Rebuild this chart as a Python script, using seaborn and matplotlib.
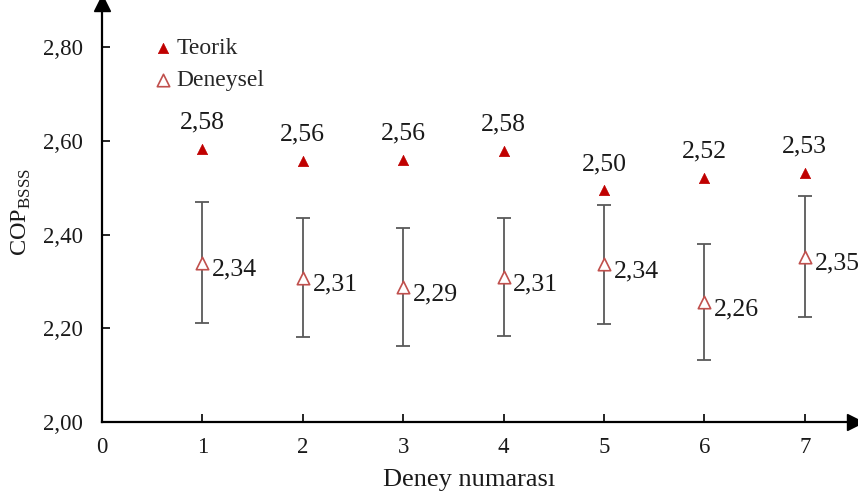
import numpy as np
import pandas as pd
import matplotlib
matplotlib.use("Agg")
import matplotlib.pyplot as plt
import seaborn as sns

deney = [1, 2, 3, 4, 5, 6, 7]
teorik = [2.582, 2.557, 2.560, 2.579, 2.494, 2.521, 2.531]
teorik_labels = ["2,58", "2,56", "2,56", "2,58", "2,50", "2,52", "2,53"]
deneysel = [2.340, 2.308, 2.288, 2.309, 2.337, 2.256, 2.353]
deneysel_err = [0.129, 0.127, 0.126, 0.126, 0.127, 0.124, 0.130]
deneysel_labels = ["2,34", "2,31", "2,29", "2,31", "2,34", "2,26", "2,35"]
x_ticks = [0, 1, 2, 3, 4, 5, 6, 7]
y_ticks = [2.00, 2.20, 2.40, 2.60, 2.80]
y_tick_labels = ["2,00", "2,20", "2,40", "2,60", "2,80"]

df = pd.DataFrame({"Deney": deney, "Teorik": teorik, "Deneysel": deneysel,
                   "err": deneysel_err})

sns.set_theme(style="white")
plt.rcParams['font.family'] = ['Liberation Serif', 'DejaVu Serif']
plt.rcParams['mathtext.fontset'] = 'custom'
plt.rcParams['mathtext.rm'] = 'Liberation Serif'

fig = plt.figure(figsize=(8.58, 4.99), dpi=100)
ax = fig.add_axes([102/858, 77/499, 753/858, 419/499])

red_fill = "#C00000"
red_edge = "#C0504D"

ax.errorbar(df["Deney"], df["Deneysel"], yerr=df["err"], fmt="none",
            ecolor="#595959", elinewidth=1.3, capsize=5, capthick=1.3, zorder=2)

sns.scatterplot(data=df, x="Deney", y="Teorik", marker="^", s=55,
                color=red_fill, edgecolor=red_fill, linewidth=0.5, ax=ax,
                label="Teorik", zorder=3)
sns.scatterplot(data=df, x="Deney", y="Deneysel", marker="^", s=80,
                facecolor="white", edgecolor=red_edge, linewidth=1.2, ax=ax,
                label="Deneysel", zorder=4)

for x, y, t in zip(deney, teorik, teorik_labels):
    ax.annotate(t, (x, y), xytext=(0, 19), textcoords="offset points",
                ha="center", va="center", fontsize=18.5, color="#1a1a1a")
for x, y, t in zip(deney, deneysel, deneysel_labels):
    ax.annotate(t, (x, y), xytext=(7, -5), textcoords="offset points",
                ha="left", va="center", fontsize=18.5, color="#1a1a1a")

ax.set_xlim(0, 7.5)
ax.set_ylim(2.0, 2.894)
ax.set_xticks(x_ticks)
ax.set_xticklabels([str(v) for v in x_ticks])
ax.set_yticks(y_ticks)
ax.set_yticklabels(y_tick_labels)
ax.tick_params(axis="both", direction="in", length=6, width=1.2,
               labelsize=16.5, colors="black", labelcolor="#1a1a1a")
ax.tick_params(axis="x", pad=11, bottom=True)
ax.tick_params(axis="y", pad=14, left=True)

for s in ["top", "right"]:
    ax.spines[s].set_visible(False)
for s in ["left", "bottom"]:
    ax.spines[s].set_color("black")
    ax.spines[s].set_linewidth(1.6)

ax.plot(1, 0, ">", color="black", markersize=11, transform=ax.transAxes,
        clip_on=False, zorder=5)
ax.plot(0, 1, "^", color="black", markersize=11, transform=ax.transAxes,
        clip_on=False, zorder=5)

ax.set_xlabel("Deney numarası", fontsize=19, color="#1a1a1a", labelpad=7)
ax.xaxis.set_label_coords(0.488, -0.113)
ax.set_ylabel(r"COP$_{\mathrm{BSSS}}$", fontsize=17.5, color="#1a1a1a", labelpad=7)

ax.legend(loc="upper left", bbox_to_anchor=(0.049, 0.94), frameon=False,
          fontsize=17, handletextpad=0.0, labelspacing=0.45,
          borderaxespad=0, handlelength=1.2)

fig.savefig("out.png", dpi=100)
